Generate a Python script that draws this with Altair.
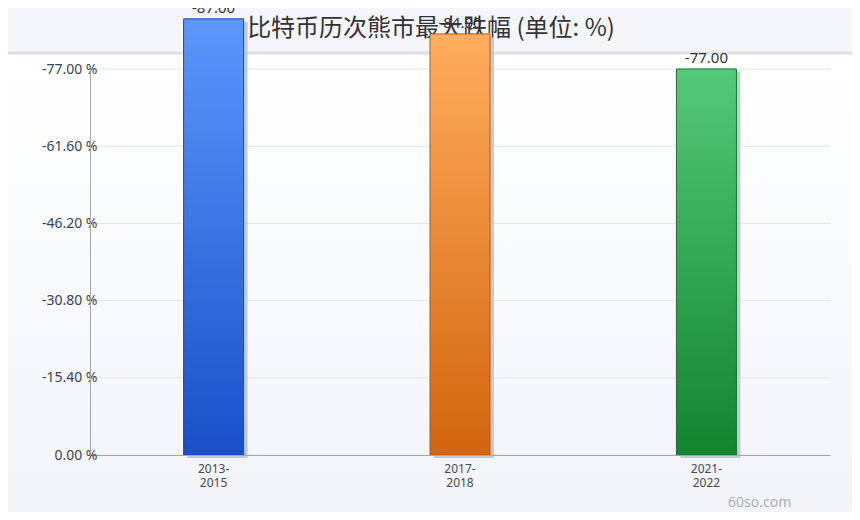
import altair as alt
import pandas as pd

periods = ["2013-2015", "2017-2018", "2021-2022"]
drops = [-87.00, -84.00, -77.00]
tops = ["#5B97FC", "#FFAD5E", "#55C97A"]
bottoms = ["#1A4FC9", "#D2650E", "#12842E"]
strokes = ["#1E48B0", "#B85A10", "#137530"]
y_ticks = [0, 15.4, 30.8, 46.2, 61.6, 77]
title_text = "比特币历次熊市最大跌幅 (单位: %)"

df = pd.DataFrame({
    "period": periods,
    "drop": drops,
    "mag": [abs(v) for v in drops],
    "label": [f"{v:.2f}" for v in drops],
})
ticks_df = pd.DataFrame({"v": y_ticks})

W, H = 740, 386
yscale = alt.Scale(domain=[0, 77], nice=False, zero=True)
yaxis = alt.Axis(values=y_ticks, tickSize=0, labelPadding=-7, grid=False,
                 labelColor="#3c4252", labelFontSize=14, labelFont="Noto Sans",
                 domainColor="#A2A7B4", zindex=1,
                 labelExpr="datum.value == 0 ? '0.00 %' : '-' + format(datum.value, '.2f') + ' %'")
xenc = alt.X("period:N", sort=periods, title=None,
             scale=alt.Scale(paddingInner=0.757, paddingOuter=0.38),
             axis=alt.Axis(labelAngle=0, labelColor="#444a58", labelFontSize=12,
                           labelFont="Noto Sans", tickSize=0, labelPadding=8,
                           domainColor="#A2A7B4", labelLineHeight=14, zindex=1,
                           labelExpr="[slice(datum.label,0,5), slice(datum.label,5)]"))
yenc = alt.Y("mag:Q", title=None, scale=yscale, axis=yaxis)

base = alt.Chart(df)

bg_grad = alt.Gradient(gradient="linear", x1=0, y1=0, x2=0, y2=1,
                       stops=[alt.GradientStop(color="#FFFFFF", offset=0),
                              alt.GradientStop(color="#F2F4F8", offset=1)])
background_rect = alt.Chart(pd.DataFrame({"a": [0]})).mark_rect(fill=bg_grad).encode(
    x=alt.value(-90), x2=alt.value(W + 40), y=alt.value(-15), y2=alt.value(H + 70))

header_line = alt.Chart(pd.DataFrame({"a": [0]})).mark_rule(
    color="#DCDFE6", strokeWidth=3).encode(
    x=alt.value(-90), x2=alt.value(W + 40), y=alt.value(-16))

grid = alt.Chart(ticks_df).mark_rule(color="#E2E5EC", strokeWidth=1).encode(
    y=alt.Y("v:Q", title=None, scale=yscale, axis=yaxis),
    x=alt.value(0), x2=alt.value(W + 1))

title = alt.Chart(pd.DataFrame({"t": [title_text]})).mark_text(
    fontSize=24, color="#333333", font="Noto Sans CJK SC", baseline="middle", align="center").encode(
    x=alt.value(341), y=alt.value(-40), text="t:N")

shadow = base.mark_bar(size=60, color="#B8BDC8", opacity=0.8, xOffset=4, yOffset=3).encode(x=xenc, y=yenc)

bars = []
for i, p in enumerate(periods):
    grad = alt.Gradient(gradient="linear", x1=0, y1=0, x2=0, y2=1,
                        stops=[alt.GradientStop(color=tops[i], offset=0),
                               alt.GradientStop(color=bottoms[i], offset=1)])
    bars.append(
        base.transform_filter(alt.datum.period == p)
        .mark_bar(size=60, fill=grad, stroke=strokes[i], strokeWidth=1)
        .encode(x=xenc, y=yenc)
    )

labels = base.mark_text(dy=-11, fontSize=15, color="#333333", font="Noto Sans").encode(
    x=xenc, y=yenc, text="label:N")

watermark = alt.Chart(pd.DataFrame({"t": ["60so.com"]})).mark_text(
    fontSize=14, color="#A9AFBE", font="Noto Sans", align="left").encode(
    x=alt.value(638), y=alt.value(48 + H), text="t:N")

chart = alt.layer(background_rect, header_line, grid, title, shadow, *bars, labels, watermark).properties(
    width=W, height=H,
    padding={"left": 82, "top": 61, "right": 22, "bottom": 57},
    autosize=alt.AutoSizeParams(type="none"),
    background="#F5F6FA",
).configure_view(
    stroke=None,
)

chart.save("out.html", embed_options={"renderer": "svg", "actions": False})
